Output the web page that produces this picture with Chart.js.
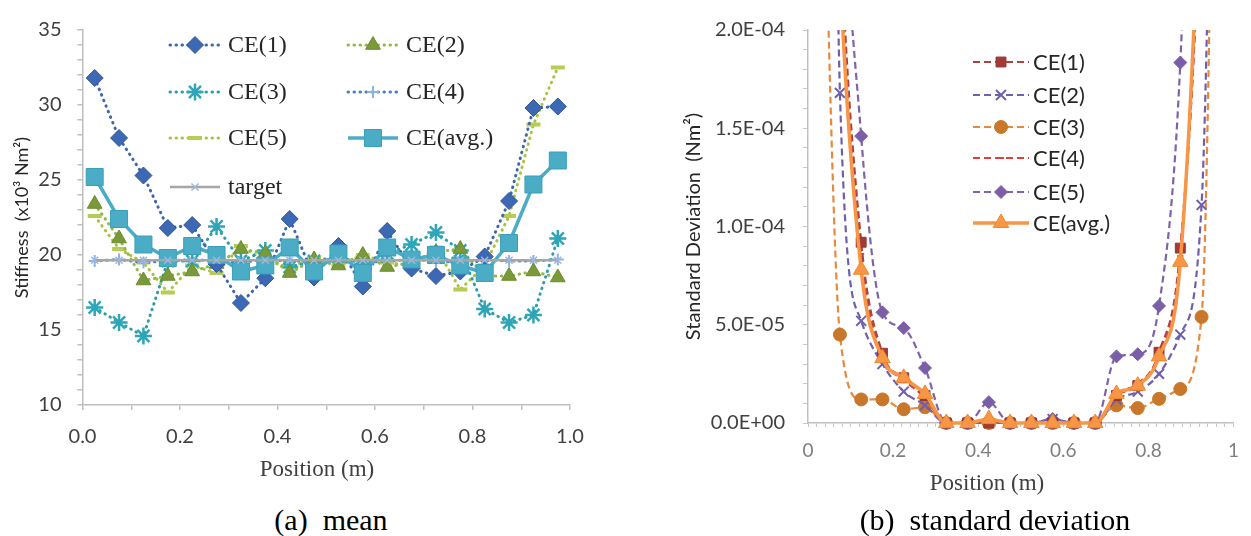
<!DOCTYPE html>
<html>
<head>
<meta charset="utf-8">
<script src="https://cdn.jsdelivr.net/npm/chart.js@4/dist/chart.umd.min.js"></script>
<style>
  html,body{margin:0;padding:0;background:#fff;}
  body{width:1251px;height:536px;position:relative;overflow:hidden;}
  canvas{position:absolute;top:0;}
  .t{position:absolute;text-align:center;white-space:pre;font-family:"Liberation Serif","Times New Roman",serif;color:#000;}
  .xt{color:#404040;font-size:23px;line-height:23px;width:300px;}
  .cap{font-size:30px;line-height:30px;width:500px;}
</style>
</head>
<body>
<canvas id="c1" width="620" height="480" style="left:0px;width:620px;height:480px"></canvas>
<canvas id="c2" width="611" height="500" style="left:640px;width:611px;height:500px"></canvas>
<div class="t xt" style="left:167px;top:457px">Position (m)</div>
<div class="t xt" style="left:837px;top:471px">Position (m)</div>
<div class="t cap" style="left:81px;top:505px">(a)  mean</div>
<div class="t cap" style="left:745px;top:505px">(b)  standard deviation</div>
<script>
// ---------- data ----------
const positions = [0.025,0.075,0.125,0.175,0.225,0.275,0.325,0.375,0.425,0.475,0.525,0.575,0.625,0.675,0.725,0.775,0.825,0.875,0.925,0.975];

// (a) mean stiffness (x10^3 Nm^2)
const meanCE1 = [31.8,27.8,25.3,21.8,22.0,19.4,16.8,18.45,22.4,18.5,20.6,17.9,21.6,19.1,18.6,18.9,19.9,23.6,29.8,29.9];
const meanCE2 = [23.4,21.1,18.3,18.6,18.9,19.4,20.4,20.1,18.8,19.7,19.3,20.0,19.2,19.5,20.2,20.4,18.6,18.6,18.9,18.5];
const meanCE3 = [16.5,15.5,14.6,19.6,19.6,21.9,19.6,20.3,19.2,19.6,19.9,19.4,20.1,20.7,21.5,20.3,16.4,15.5,16.0,21.1];
const meanCE4 = [19.6,19.7,19.5,19.6,19.7,19.6,19.5,19.7,19.6,19.6,19.7,19.5,19.6,19.7,19.6,19.5,19.7,19.6,19.6,19.7];
const meanCE5 = [22.6,20.4,19.5,17.5,19.3,18.8,20.6,19.6,19.2,19.8,19.3,20.0,19.5,19.3,20.5,17.7,19.3,22.6,28.7,32.5];
const meanAvg = [25.2,22.4,20.7,19.8,20.6,20.0,18.9,19.3,20.5,18.9,20.1,18.8,20.5,19.7,20.0,19.3,18.8,20.8,24.7,26.3];
const meanTarget = [19.65,19.65,19.65,19.65,19.65,19.65,19.65,19.65,19.65,19.65,19.65,19.65,19.65,19.65,19.65,19.65,19.65,19.65,19.65,19.65];

// (b) standard deviation (Nm^2)
const sdCE1 = [6.0e-4,2.55e-4,9.2e-5,3.55e-5,2.3e-5,1.4e-5,0,0,0,0,0,0,0,0,1.4e-5,1.9e-5,3.6e-5,8.9e-5,2.9e-4,8.0e-4];
const sdCE2 = [1.5e-3,1.68e-4,5.2e-5,3.0e-5,1.6e-5,9.0e-6,0,0,0,0,0,2.0e-6,0,0,1.2e-5,1.6e-5,2.5e-5,4.5e-5,1.11e-4,6.7e-4];
const sdCE3 = [3.9e-4,4.5e-5,1.2e-5,1.2e-5,7.0e-6,8.0e-6,0,0,0,0,0,0,0,0,9.0e-6,7.6e-6,1.23e-5,1.73e-5,5.4e-5,6.6e-4];
const sdCE4 = [6.5e-4,2.5e-4,8.6e-5,3.4e-5,2.2e-5,1.3e-5,0,0,0,0,0,0,0,0,1.5e-5,2.0e-5,3.5e-5,8.5e-5,3.0e-4,8.5e-4];
const sdCE5 = [9.0e-4,3.4e-4,1.46e-4,5.63e-5,4.83e-5,2.8e-5,0,0,1.06e-5,0,0,2.0e-6,0,0,3.39e-5,3.5e-5,5.96e-5,1.834e-4,5.2e-4,1.2e-3];
const sdAvg = [5.5e-4,2.3e-4,7.8e-5,3.3e-5,2.3e-5,1.48e-5,0,0,2.0e-6,0,0,0,0,0,1.48e-5,1.9e-5,3.39e-5,8.2e-5,3.0e-4,7.0e-4];

// ---------- helpers ----------
const pts = arr => positions.map((x, i) => ({x: x, y: arr[i]}));

function sci(v) {
  if (Math.abs(v) < 1e-12) return '0.0E+00';
  let e = Math.floor(Math.log10(v));
  let m = v / Math.pow(10, e);
  if (m >= 9.95) { m /= 10; e += 1; }
  if (m < 0.995) { m *= 10; e -= 1; }
  return m.toFixed(1) + 'E' + (e < 0 ? '-' : '+') + String(Math.abs(e)).padStart(2, '0');
}

const gridLegend = {
  id: 'gridLegend',
  afterDraw(chart, args, opts) {
    if (!opts || !opts.entries) return;
    const ctx = chart.ctx;
    opts.entries.forEach(e => {
      const ds = chart.data.datasets[e.index];
      ctx.save();
      ctx.strokeStyle = ds.borderColor;
      ctx.lineWidth = ds.borderWidth;
      ctx.lineCap = ds.borderCapStyle || 'butt';
      ctx.setLineDash(ds.borderDash || []);
      ctx.beginPath();
      ctx.moveTo(e.x, e.y);
      ctx.lineTo(e.x + opts.lineLength, e.y);
      ctx.stroke();
      ctx.setLineDash([]);
      ctx.lineCap = 'butt';
      ctx.fillStyle = ds.pointBackgroundColor || ds.pointBorderColor;
      ctx.strokeStyle = ds.pointBorderColor;
      ctx.lineWidth = ds.pointBorderWidth;
      const cx = e.x + opts.lineLength / 2;
      if (Chart.helpers && Chart.helpers.drawPoint) {
        Chart.helpers.drawPoint(ctx, {pointStyle: ds.pointStyle, radius: ds.pointRadius * (opts.markerScale || 1), rotation: 0, borderWidth: ds.pointBorderWidth}, cx, e.y);
      } else {
        const r = ds.pointRadius * 0.7;
        ctx.fillRect(cx - r, e.y - r, 2 * r, 2 * r);
      }
      ctx.restore();
      ctx.save();
      ctx.font = opts.font;
      ctx.fillStyle = opts.color;
      ctx.textBaseline = 'middle';
      ctx.textAlign = 'left';
      ctx.fillText(ds.label, e.x + opts.lineLength + opts.gap, e.y + (opts.textDy || 0));
      ctx.restore();
    });
  }
};

const dotted = {borderWidth: 3, borderDash: [0.5, 5.5], borderCapStyle: 'round'};
const dashed = {borderWidth: 2.2, borderDash: [7, 4], borderCapStyle: 'butt', cubicInterpolationMode: 'monotone', clip: {left: 12, right: 12, top: 0, bottom: 14}};

// ---------- chart (a) ----------
new Chart(document.getElementById('c1'), {
  type: 'line',
  data: {
    datasets: [
      Object.assign({label: 'CE(1)', data: pts(meanCE1), borderColor: '#3B66B0', pointStyle: 'rectRot', pointRadius: 8.5, pointBackgroundColor: '#3D68B3', pointBorderColor: '#2F5597', pointBorderWidth: 1, order: 2}, dotted),
      Object.assign({label: 'CE(2)', data: pts(meanCE2), borderColor: '#92B74A', pointStyle: 'triangle', pointRadius: 8.5, pointBackgroundColor: '#7A9A3A', pointBorderColor: '#6B8A30', pointBorderWidth: 1, order: 3}, dotted),
      Object.assign({label: 'CE(3)', data: pts(meanCE3), borderColor: '#2C9DAF', pointStyle: 'star', pointRadius: 8.5, pointBackgroundColor: '#2FA5B8', pointBorderColor: '#2FA5B8', pointBorderWidth: 2.5, order: 4}, dotted),
      Object.assign({label: 'CE(4)', data: pts(meanCE4), borderColor: '#4A7CC9', pointStyle: 'cross', pointRadius: 6, pointBackgroundColor: '#8DB3E2', pointBorderColor: '#8DB3E2', pointBorderWidth: 2, order: 5}, dotted),
      Object.assign({label: 'CE(5)', data: pts(meanCE5), borderColor: '#A9C23F', pointStyle: 'line', pointRadius: 7, pointBackgroundColor: '#B5CC55', pointBorderColor: '#B5CC55', pointBorderWidth: 4, order: 6}, dotted),
      {label: 'CE(avg.)', data: pts(meanAvg), borderColor: '#4BACC6', borderWidth: 3.5, pointStyle: 'rect', pointRadius: 12, pointBackgroundColor: '#4BACC6', pointBorderColor: '#3A9FBA', pointBorderWidth: 1, order: 1},
      {label: 'target', data: pts(meanTarget), borderColor: '#A6A6A6', borderWidth: 2.5, pointStyle: 'crossRot', pointRadius: 5, pointBackgroundColor: '#9DB8DF', pointBorderColor: '#9DB8DF', pointBorderWidth: 1.5, order: 0}
    ]
  },
  options: {
    responsive: false,
    animation: false,
    devicePixelRatio: 1,
    layout: {padding: {left: 0, top: 30, right: 50, bottom: 0}},
    plugins: {
      legend: {display: false},
      tooltip: {enabled: false},
      gridLegend: {
        lineLength: 50, gap: 8, font: '24px "Liberation Serif", "Times New Roman", serif', color: '#262626', textDy: 1,
        entries: [
          {index: 0, x: 170, y: 45}, {index: 1, x: 348, y: 45},
          {index: 2, x: 170, y: 92}, {index: 3, x: 348, y: 92},
          {index: 4, x: 170, y: 138}, {index: 5, x: 348, y: 138},
          {index: 6, x: 170, y: 187}
        ]
      }
    },
    scales: {
      x: {
        type: 'linear', min: 0, max: 1,
        afterFit: s => { s.height = 75; },
        ticks: {stepSize: 0.1, autoSkip: false, maxRotation: 0, padding: 15, color: '#404040', font: {family: 'Lato', size: 20},
          callback: v => { const k = Math.round(v * 10); return k % 2 ? '' : (k / 10).toFixed(1); }},
        grid: {drawOnChartArea: false, drawTicks: true, tickLength: 5, color: '#BFBFBF', lineWidth: 1.5},
        border: {display: true, color: '#BFBFBF', width: 1.5}
      },
      y: {
        type: 'linear', min: 10, max: 35,
        afterFit: s => { s.width = 82.5; },
        ticks: {stepSize: 1, autoSkip: false, padding: 16, color: '#404040', font: {family: 'Lato', size: 20},
          callback: v => { const k = Math.round(v); return k % 5 ? '' : String(k); }},
        grid: {drawOnChartArea: false, drawTicks: true, tickLength: 5, color: '#BFBFBF', lineWidth: 1.5},
        border: {display: true, color: '#BFBFBF', width: 1.5},
        title: {display: true, text: 'Stiffness  (x10³ Nm²)', color: '#262626', font: {family: 'Lato', size: 18}, padding: {top: 11, bottom: 0}}
      }
    }
  },
  plugins: [gridLegend]
});

// ---------- chart (b) ----------
new Chart(document.getElementById('c2'), {
  type: 'line',
  data: {
    datasets: [
      Object.assign({label: 'CE(1)', data: pts(sdCE1), borderColor: '#B0413E', pointStyle: 'rect', pointRadius: 7, pointBackgroundColor: '#A33A36', pointBorderColor: '#953735', pointBorderWidth: 1, order: 1}, dashed),
      Object.assign({label: 'CE(2)', data: pts(sdCE2), borderColor: '#6F5FAE', pointStyle: 'crossRot', pointRadius: 7, pointBackgroundColor: '#6F5FAE', pointBorderColor: '#6F5FAE', pointBorderWidth: 2, order: 3}, dashed),
      Object.assign({label: 'CE(3)', data: pts(sdCE3), borderColor: '#E8883A', pointStyle: 'circle', pointRadius: 6.5, pointBackgroundColor: '#C8772B', pointBorderColor: '#C8772B', pointBorderWidth: 1, order: 5}, dashed),
      Object.assign({label: 'CE(4)', data: pts(sdCE4), borderColor: '#E0403D', pointStyle: 'line', pointRadius: 3, pointBackgroundColor: '#E0403D', pointBorderColor: '#E0403D', pointBorderWidth: 2, order: 4}, dashed),
      Object.assign({label: 'CE(5)', data: pts(sdCE5), borderColor: '#7F63AA', pointStyle: 'rectRot', pointRadius: 6.5, pointBackgroundColor: '#7A5EA7', pointBorderColor: '#7A5EA7', pointBorderWidth: 1, order: 2}, dashed),
      {label: 'CE(avg.)', data: pts(sdAvg), borderColor: '#F79646', borderWidth: 3.5, pointStyle: 'triangle', pointRadius: 9, pointBackgroundColor: '#F79646', pointBorderColor: '#F08A30', pointBorderWidth: 1, order: 0, cubicInterpolationMode: 'monotone', clip: {left: 12, right: 12, top: 0, bottom: 14}}
    ]
  },
  options: {
    responsive: false,
    animation: false,
    devicePixelRatio: 1,
    layout: {padding: {left: 0, top: 21.7, right: 8, bottom: 0}},
    plugins: {
      legend: {display: false},
      tooltip: {enabled: false},
      gridLegend: {
        lineLength: 56, gap: 4, font: '22px Lato', color: '#262626', textDy: 1,
        entries: [
          {index: 0, x: 333, y: 62}, {index: 1, x: 333, y: 95},
          {index: 2, x: 333, y: 127}, {index: 3, x: 333, y: 158},
          {index: 4, x: 333, y: 192}, {index: 5, x: 333, y: 223}
        ]
      }
    },
    scales: {
      x: {
        type: 'linear', min: 0, max: 1,
        afterFit: s => { s.height = 77; },
        ticks: {stepSize: 0.02, autoSkip: false, maxRotation: 0, padding: 12, color: '#7F7F7F', font: {family: 'Lato', size: 19},
          callback: v => { const k = Math.round(v * 50); if (k % 10) return ''; const d = k / 50; return (d === 0 || d === 1) ? String(d) : d.toFixed(1); }},
        grid: {drawOnChartArea: false, drawTicks: true, tickLength: 4, color: '#C8C8C8', lineWidth: 1},
        border: {display: true, color: '#BFBFBF', width: 1.5}
      },
      y: {
        type: 'linear', min: 0, max: 2e-4,
        afterFit: s => { s.width = 168; },
        ticks: {stepSize: 1e-5, autoSkip: false, padding: 18, color: '#404040', font: {family: 'Lato', size: 20},
          callback: v => { const k = Math.round(v / 1e-5); return k % 5 ? '' : sci(k * 1e-5); }},
        grid: {drawOnChartArea: false, drawTicks: true, tickLength: 5, color: '#C8C8C8', lineWidth: 1},
        border: {display: true, color: '#BFBFBF', width: 1.5},
        title: {display: true, text: 'Standard Deviation  (Nm²)', color: '#262626', font: {family: 'Lato', size: 20}, padding: {top: 42, bottom: 0}}
      }
    }
  },
  plugins: [gridLegend]
});
</script>
</body>
</html>
